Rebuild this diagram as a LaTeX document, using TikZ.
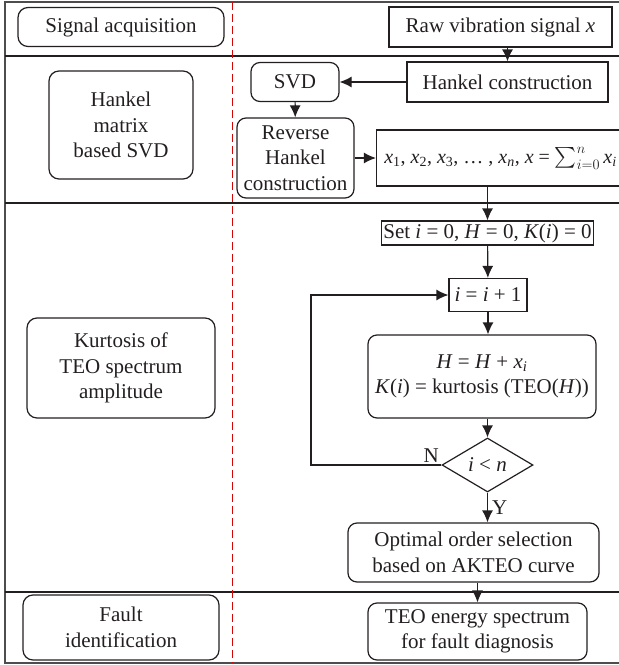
\documentclass[tikz,border=0pt]{standalone}
\usepackage{amsmath}
\usepackage{fontspec}
\setmainfont{Liberation Serif}
\usetikzlibrary{arrows.meta,shapes.geometric}
\definecolor{ink}{HTML}{231F20}
\begin{document}
\begin{tikzpicture}[x=1pt,y=-1pt,-,>={Latex[length=12pt,width=11pt]},line width=1.2pt,
							draw=ink,text=ink,font=\fontsize{21}{25.5}\selectfont,
							phase/.style={draw,rounded corners=10pt,align=center,inner sep=1pt},
							proc/.style={draw,align=center,inner sep=1pt},
							round proc/.style={draw,rounded corners=9pt,align=center,inner sep=1pt},
							test/.style={draw,diamond,aspect=1.7,inner sep=0pt,minimum width=91pt,minimum height=54pt}]
							
							\useasboundingbox (0,0) rectangle (619,665);
							\clip (0,0) rectangle (619,665);
							\draw[line width=1.3pt,draw=ink!80] (5,2) rectangle (625,663);
							\draw[line width=1.8pt] (5,56) -- (625,56) (5,203) -- (625,203) (5,592) -- (625,592);
							\draw[line width=0.9pt,draw=red!80!ink,dash pattern=on 8pt off 4pt] (232,2) -- (232,663);
							
							\node[phase,minimum width=206pt,minimum height=39pt] (1) at (121,27) {Signal acquisition};
							\node[phase,minimum width=144pt,minimum height=108pt] (2) at (121,125) {Hankel\\matrix\\based SVD};
							\node[phase,minimum width=188pt,minimum height=100pt] (3) at (121,368) {Kurtosis of\\TEO spectrum\\amplitude};
							\node[phase,minimum width=196pt,minimum height=65pt] (4) at (121,627.5) {Fault\\identification};
							
							\node[proc,minimum width=223pt,minimum height=40pt] (5) at (500.5,27) {Raw vibration signal \textit{x}};
							\node[proc,minimum width=201pt,minimum height=40pt] (6) at (507.5,82) {Hankel construction};
							\node[round proc,minimum width=88pt,minimum height=39pt] (7) at (295,82) {SVD};
							\node[round proc,minimum width=117pt,minimum height=80pt] (8) at (295.5,158) {Reverse\\Hankel\\construction};
							\node[proc,minimum width=248pt,minimum height=56pt,font=\fontsize{20}{24}\selectfont] (9) at (500.5,158)
								{\textit{x}\textsubscript{1}, \textit{x}\textsubscript{2}, \textit{x}\textsubscript{3}, \dots\ , \textit{x}\textsubscript{\textit{n}}, \textit{x} = $\sum_{i=0}^{n}$\,\textit{x}\textsubscript{\textit{i}}};
							\node[proc,minimum width=212pt,minimum height=24pt] (10) at (487.5,233) {Set \textit{i} = 0, \textit{H} = 0, \textit{K}(\textit{i}) = 0};
							\node[proc,minimum width=78pt,minimum height=33pt] (11) at (488,295) {\textit{i} = \textit{i} + 1};
							\node[round proc,minimum width=228pt,minimum height=83pt] (12) at (482,376.5)
								{\textit{H} = \textit{H} + \textit{x}\textsubscript{\textit{i}}\\\textit{K}(\textit{i}) = kurtosis (TEO(\textit{H}))};
							\node[test] (13) at (487.5,465) {\textit{i} < \textit{n}};
							\node[round proc,minimum width=251pt,minimum height=59pt] (14) at (473.5,552.5) {Optimal order selection\\based on AKTEO curve};
							\node[round proc,minimum width=219pt,minimum height=57pt] (15) at (477.5,631.5) {TEO energy spectrum\\for fault diagnosis};
							\coordinate (16) at (311,465);
							
							\path[->]
								(5.south -| 6.north) edge (6)
								(6) edge (7)
								(7) edge (8)
								(8) edge (9)
								(9.south -| 10.north) edge (10)
								(10) edge (11)
								(11) edge (11 |- 12.north)
								(12.south -| 13.north) edge (13)
								(13) edge node[right,inner sep=4pt] {Y} (13 |- 14.north)
								(14.south -| 15.north) edge (15);
							\draw[->] (13.west) node[above left,inner sep=2pt] {N} -- (16) |- (11.west);
						\end{tikzpicture}
\end{document}
